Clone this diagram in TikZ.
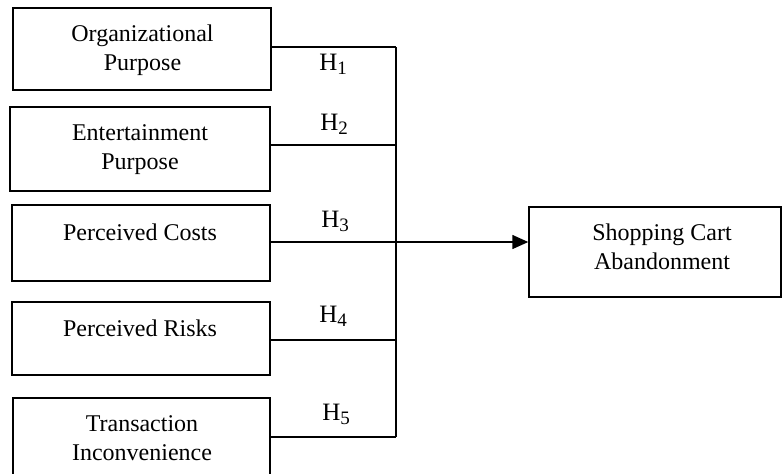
\documentclass[tikz,border=0pt]{standalone}
\usepackage{fontspec}
\setmainfont{Liberation Serif}
\usetikzlibrary{arrows.meta}
\newcommand{\hyplabel}[1]{H\raisebox{-0.35ex}{\fontsize{9.5}{10}\selectfont #1}}
\begin{document}
\begin{tikzpicture}[x=0.5pt,y=-0.5pt,
  box/.style={draw,line width=0.7pt,inner sep=0pt},
  txt/.style={align=center,font=\fontsize{12}{14.5}\selectfont,inner sep=0pt},
  hyp/.style={anchor=base west,font=\fontsize{12.5}{14}\selectfont,inner sep=0pt},
  link/.style={line width=0.7pt}]
\useasboundingbox (0,0) rectangle (782,473);
\clip (0,0) rectangle (782,473);

% antecedent boxes
\node[box,minimum width=129pt,minimum height=41pt] (b1) at (142,49) {};
\node[box,minimum width=130pt,minimum height=42pt] (b2) at (140,149) {};
\node[box,minimum width=129pt,minimum height=38pt] (b3) at (141,243) {};
\node[box,minimum width=129pt,minimum height=36.5pt] (b4) at (141,338.5) {};
\node[box,minimum width=128.5pt,minimum height=46pt] (b5) at (141.5,444) {};
% outcome box
\node[box,minimum width=126pt,minimum height=45pt] (t) at (655,252) {};

% box texts
\node[txt] (l1) at (142.5,50.7) {Organizational\\Purpose};
\node[txt] (l2) at (140,149.5) {Entertainment\\Purpose};
\node[txt,anchor=base] (l3) at (140,240) {Perceived Costs};
\node[txt,anchor=base] (l4) at (140,336) {Perceived Risks};
\node[txt] (l5) at (142,437.8) {Transaction\\Inconvenience};
\node[txt] (lt) at (662,246.5) {Shopping Cart\\Abandonment};

% junctions on the collecting bus
\coordinate (j1) at (396,47);
\coordinate (j2) at (396,145);
\coordinate (j3) at (396,242);
\coordinate (j4) at (396,340);
\coordinate (j5) at (396,437);

\draw[link] (b1.east |- j1) -- (j1);
\draw[link] (b2.east |- j2) -- (j2);
\draw[link] (b4.east |- j4) -- (j4);
\draw[link] (b5.east |- j5) -- (j5);
\draw[link] (j1) -- (j5);
\draw[link,-{Triangle[length=8pt,width=7pt]}] (b3.east |- j3) -- (t.west |- j3);

% hypothesis labels
\node[hyp] (h1) at (319,70) {\hyplabel{1}};
\node[hyp] (h2) at (320,130) {\hyplabel{2}};
\node[hyp] (h3) at (321,227) {\hyplabel{3}};
\node[hyp] (h4) at (319,322) {\hyplabel{4}};
\node[hyp] (h5) at (322,420) {\hyplabel{5}};
\end{tikzpicture}
\end{document}
